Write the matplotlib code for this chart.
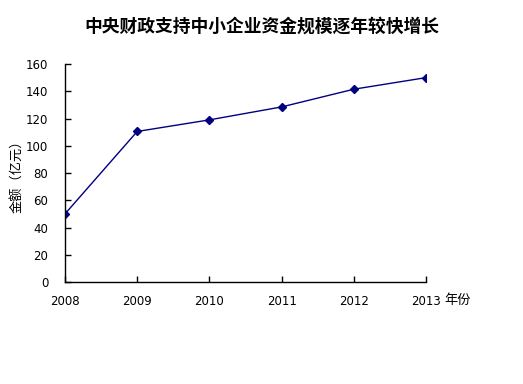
import matplotlib
matplotlib.use('Agg')
import matplotlib.pyplot as plt

plt.rcParams['font.family'] = ['DejaVu Sans', 'Noto Sans CJK SC']

years = [2008, 2009, 2010, 2011, 2012, 2013]
amount = [50, 110.5, 119, 128.5, 141.5, 150]
yticks = [0, 20, 40, 60, 80, 100, 120, 140, 160]

title = '中央财政支持中小企业资金规模逐年较快增长'
ylabel = '金额（亿元）'
xunit = '年份'

fig = plt.figure(figsize=(5.23, 3.84), dpi=100, facecolor='white')
ax = fig.add_axes([0.1243, 0.2656, 0.8145 - 0.1243, 0.8333 - 0.2656])

ax.plot(years, amount, color='#000080', linewidth=1.0,
        marker='D', markersize=4, markerfacecolor='#000080',
        markeredgecolor='#000080')

ax.set_xlim(2008, 2013)
ax.set_ylim(0, 160)
ax.set_xticks(years)
ax.set_xticklabels([str(y) for y in years])
ax.set_yticks(yticks)

for side in ['top', 'right']:
    ax.spines[side].set_visible(False)
for side in ['left', 'bottom']:
    ax.spines[side].set_linewidth(1.0)
    ax.spines[side].set_color('black')

ax.tick_params(axis='both', direction='in', length=4, width=1,
               labelsize=8.5, colors='black')
ax.tick_params(axis='x', pad=9)
ax.tick_params(axis='y', pad=12)

ax.set_ylabel(ylabel, family=['Noto Sans CJK SC'], fontsize=9.5)
ax.yaxis.set_label_coords(-0.112, 0.5)

fig.text(0.849, 0.2656 - 0.047, xunit, family=['Noto Sans CJK SC'],
         fontsize=9.5, ha='left', va='center')

fig.text(0.5, 0.93, title, family=['Noto Sans CJK SC'], fontsize=12.8,
         fontweight='bold', ha='center', va='center')

fig.savefig('out.png', dpi=100, facecolor='white')
